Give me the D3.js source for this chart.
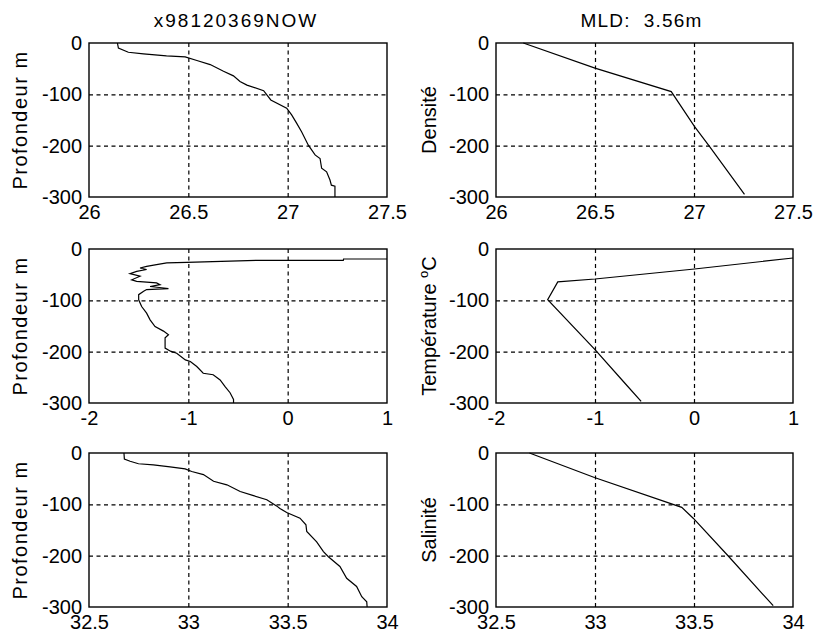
<!DOCTYPE html>
<html><head><meta charset="utf-8">
<script src="https://cdn.jsdelivr.net/npm/d3@7"></script>
<style>
html,body{margin:0;padding:0;background:#fff;}
svg{display:block;}
text{font-family:"Liberation Sans", Arial, sans-serif;fill:#000;}
</style>
</head><body>
<svg id="c" width="814" height="642"></svg>
<script>
// ---- data (depth in m, negative downward) ----
const densDepth = [0,-10,-18,-21,-25,-27,-34,-42,-55,-64,-75,-82,-93,-111,-127,-140,-156,-173,-199,-218,-225,-244,-251,-267,-277,-279,-300];
const densVal   = [26.143,26.148,26.198,26.274,26.39,26.484,26.543,26.61,26.677,26.727,26.76,26.795,26.879,26.915,26.995,27.02,27.045,27.07,27.104,27.138,27.163,27.171,27.196,27.213,27.22,27.238,27.238];

const tempDepth = [-19.5,-19.5,-22,-22,-26,-27,-30.5,-34,-37,-40,-43.5,-48,-53,-60,-63,-66,-69.5,-73,-77,-79,-82.5,-89,-99,-112,-125,-138,-151,-160,-167,-173,-193,-199,-203,-216,-219,-229,-242,-245,-255,-268,-280,-293,-300];
const tempVal   = [1.0,0.563,0.56,-0.31,-1.016,-1.217,-1.32,-1.42,-1.486,-1.42,-1.52,-1.587,-1.486,-1.57,-1.52,-1.32,-1.285,-1.385,-1.2,-1.42,-1.45,-1.5,-1.5,-1.47,-1.42,-1.385,-1.335,-1.25,-1.2,-1.234,-1.234,-1.18,-1.117,-1.03,-0.98,-0.915,-0.85,-0.75,-0.68,-0.63,-0.58,-0.545,-0.545];

const salDepth = [0,-12,-16,-21,-23,-27,-31,-36,-42,-55,-62,-75,-83,-91,-103,-108,-116,-127,-140,-153,-173,-192,-202,-221,-244,-260,-280,-290,-300];
const salVal   = [32.676,32.678,32.707,32.749,32.824,32.908,32.984,33.017,33.076,33.127,33.194,33.261,33.328,33.395,33.444,33.461,33.495,33.562,33.592,33.596,33.646,33.68,33.705,33.763,33.797,33.847,33.873,33.898,33.9];

const densModelDepth = [0,-49,-94.6,-163,-202,-295];
const densModelVal   = [26.138,26.5,26.885,27.003,27.079,27.255];

const tempModelDepth = [-17.5,-39,-58.4,-64,-98.7,-196,-261,-297];
const tempModelVal   = [1.0,0.005,-1.0,-1.376,-1.478,-1.0,-0.70,-0.534];

const salModelDepth = [0,-47.8,-105.8,-127,-200.6,-297.5];
const salModelVal   = [32.669,32.997,33.438,33.496,33.673,33.90];

const yTicks = [0,-100,-200,-300];
const yTickLabels = ["0","-100","-200","-300"];
const yGrid = [-100,-200];

const densTicks = [26,26.5,27,27.5];
const densTickLabels = ["26","26.5","27","27.5"];
const tempTicks = [-2,-1,0,1];
const tempTickLabels = ["-2","-1","0","1"];
const salTicks = [32.5,33,33.5,34];
const salTickLabels = ["32.5","33","33.5","34"];

const titles = ["x98120369NOW","MLD:  3.56m"];
const leftYLabel = "Profondeur m";
const rightYLabels = ["Densité","Température ","Salinité"];

// ---- layout ----
const svg = d3.select("#c");
const cols = [{l:89,r:387,lab:27},{l:496,r:793,lab:436}];
const rows = [{t:43,b:197},{t:249,b:403},{t:453,b:607}];
const rowCfg = [
  {ticks:densTicks, labels:densTickLabels, left:[densVal,densDepth], right:[densModelVal,densModelDepth]},
  {ticks:tempTicks, labels:tempTickLabels, left:[tempVal,tempDepth], right:[tempModelVal,tempModelDepth]},
  {ticks:salTicks, labels:salTickLabels, left:[salVal,salDepth], right:[salModelVal,salModelDepth]}
];
const FONT = "Liberation Sans, Arial, sans-serif";

rowCfg.forEach((rc, ri) => {
  const R = rows[ri];
  cols.forEach((C, ci) => {
    const x = d3.scaleLinear().domain([rc.ticks[0], rc.ticks[rc.ticks.length-1]]).range([C.l, C.r]);
    const y = d3.scaleLinear().domain([-300, 0]).range([R.b, R.t]);
    const g = svg.append("g");

    // grid (vertical)
    g.append("g").attr("transform",`translate(0,${R.b})`)
      .call(d3.axisBottom(x).tickValues(rc.ticks.slice(1,-1)).tickSize(-(R.b-R.t)).tickFormat(""))
      .call(a => a.select(".domain").remove())
      .selectAll("line").attr("stroke","#000").attr("stroke-width",1.2).attr("stroke-dasharray","4,3.5");
    // grid (horizontal)
    g.append("g").attr("transform",`translate(${C.l},0)`)
      .call(d3.axisLeft(y).tickValues(yGrid).tickSize(-(C.r-C.l)).tickFormat(""))
      .call(a => a.select(".domain").remove())
      .selectAll("line").attr("stroke","#000").attr("stroke-width",1.2).attr("stroke-dasharray","4,3.5");

    // data line
    const [vals, deps] = ci === 0 ? rc.left : rc.right;
    const pts = vals.map((v,i)=>[v, deps[i]]);
    g.append("path").datum(pts)
      .attr("d", d3.line().x(d=>x(d[0])).y(d=>y(d[1])))
      .attr("fill","none").attr("stroke","#000").attr("stroke-width",1.2);

    // box
    g.append("rect").attr("x",C.l).attr("y",R.t).attr("width",C.r-C.l).attr("height",R.b-R.t)
      .attr("fill","none").attr("stroke","#000").attr("stroke-width",1.4);

    // tick labels
    const ax = g.append("g").attr("transform",`translate(0,${R.b})`)
      .call(d3.axisBottom(x).tickValues(rc.ticks).tickSize(0).tickPadding(8).tickFormat((d,i)=>rc.labels[i]));
    ax.select(".domain").remove();
    ax.attr("font-size",20).attr("font-family",FONT);
    ax.selectAll("text").attr("fill","#000");

    const ay = g.append("g").attr("transform",`translate(${C.l},0)`)
      .call(d3.axisLeft(y).tickValues(yTicks).tickSize(0).tickPadding(7).tickFormat((d,i)=>yTickLabels[i]));
    ay.select(".domain").remove();
    ay.attr("font-size",20).attr("font-family",FONT);
    ay.selectAll("text").attr("fill","#000");

    // y label
    const cy = (R.t + R.b)/2;
    const yl = svg.append("text")
      .attr("transform",`translate(${C.lab},${cy}) rotate(-90)`)
      .attr("text-anchor","middle").attr("font-size",20);
    if (ci === 0) {
      yl.attr("letter-spacing",1.5).text(leftYLabel);
    } else if (ri === 1) {
      yl.text(rightYLabels[ri]);
      yl.append("tspan").attr("font-size",13).attr("dy",-8).text("o");
      yl.append("tspan").attr("dy",8).text("C");
    } else {
      yl.text(rightYLabels[ri]);
    }
  });
});

// titles
svg.append("text").attr("x",(cols[0].l+cols[0].r)/2 - 2).attr("y",27)
  .attr("text-anchor","middle").attr("font-size",19).attr("letter-spacing",2).text(titles[0]);
svg.append("text").attr("x",(cols[1].l+cols[1].r)/2 - 3).attr("y",27)
  .attr("text-anchor","middle").attr("font-size",19).attr("letter-spacing",1.2)
  .style("white-space","pre").text(titles[1]);
</script>
</body></html>
